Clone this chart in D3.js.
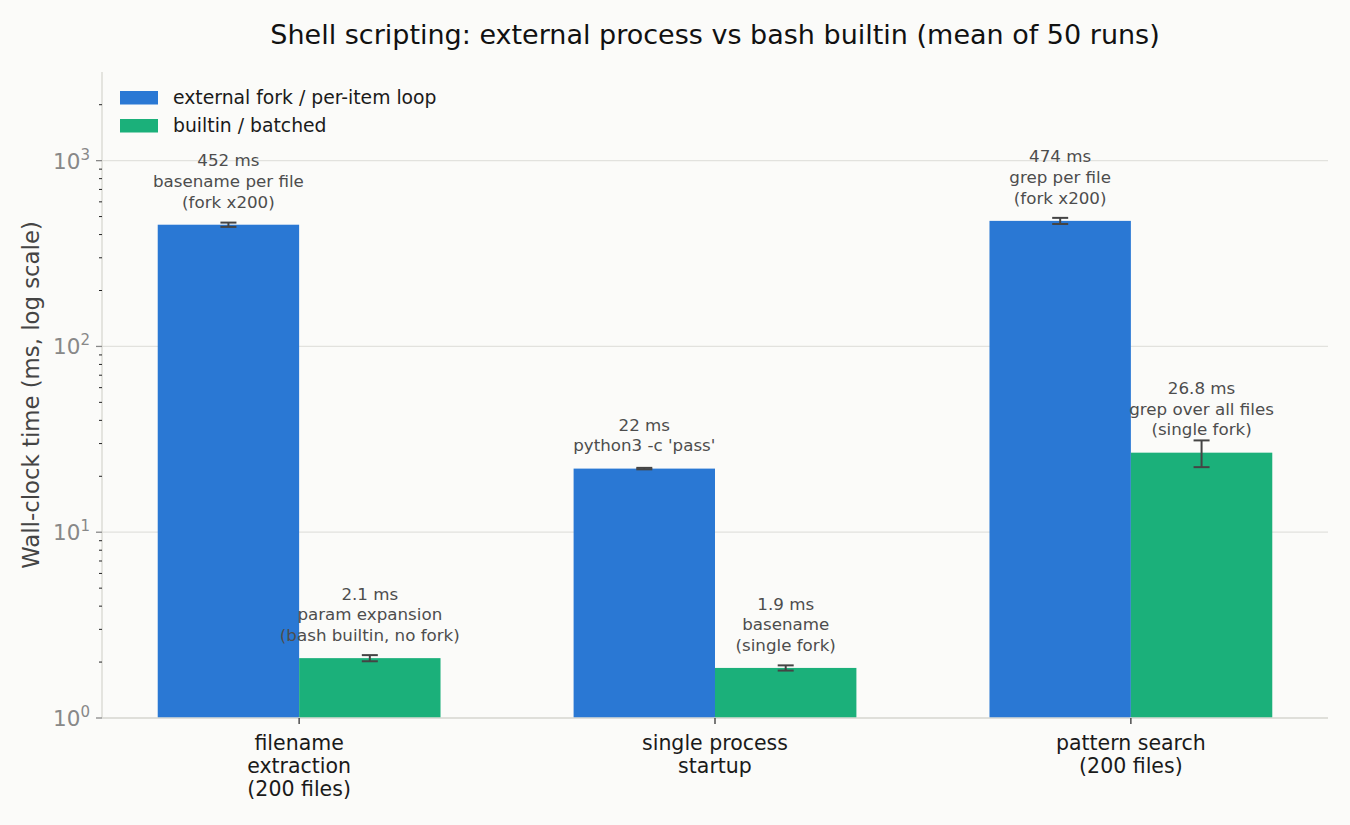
<!DOCTYPE html>
<html><head><meta charset="utf-8">
<script src="https://cdn.jsdelivr.net/npm/d3@7"></script>
<style>
body{margin:0;background:#fbfbf9;}
text{font-family:"DejaVu Sans",sans-serif;}
</style></head>
<body><svg id="c" width="1350" height="825"></svg>
<script>
const categories = [["filename","extraction","(200 files)"],["single process","startup"],["pattern search","(200 files)"]];
const seriesNames = ["external fork / per-item loop","builtin / batched"];
const externalVals = [452, 22, 474];
const externalErr = [12, 0.2, 18];
const builtinVals = [2.1, 1.86, 26.8];
const builtinErr = [0.08, 0.06, 4.4];
const externalNotes = [["452 ms","basename per file","(fork x200)"],["22 ms","python3 -c 'pass'"],["474 ms","grep per file","(fork x200)"]];
const builtinNotes = [["2.1 ms","param expansion","(bash builtin, no fork)"],["1.9 ms","basename","(single fork)"],["26.8 ms","grep over all files","(single fork)"]];
const yTicks = [1, 10, 100, 1000];
const colors = ["#2a78d4", "#1bb07a"];

const svg = d3.select("#c");
svg.append("rect").attr("width",1350).attr("height",825).attr("fill","#fbfbf9");
const L=102, R=1328, T=72, B=718;
const x = d3.scaleLinear().domain([-0.474, 2.474]).range([L, R]);
const y = d3.scaleLog().domain([1, 3000]).range([B, T]);
const bw = 0.34;

// grid
svg.append("g").selectAll("line").data(yTicks).join("line")
  .attr("x1",L).attr("x2",R).attr("y1",d=>y(d)).attr("y2",d=>y(d))
  .attr("stroke","#e2e2de").attr("stroke-width",1.3);

// bars
const series = [
  {vals: externalVals, err: externalErr, notes: externalNotes, off: -bw/2, color: colors[0]},
  {vals: builtinVals, err: builtinErr, notes: builtinNotes, off: bw/2, color: colors[1]}
];
series.forEach(s => {
  const g = svg.append("g");
  g.selectAll("rect").data(s.vals).join("rect")
    .attr("x",(d,i)=>x(i+s.off-bw/2)).attr("width",x(bw)-x(0))
    .attr("y",d=>y(d)).attr("height",d=>B-y(d)).attr("fill",s.color);
  s.vals.forEach((v,i)=>{
    const cx = x(i+s.off), e=s.err[i];
    const y1=y(v+e), y2=y(v-e);
    g.append("line").attr("x1",cx).attr("x2",cx).attr("y1",y1).attr("y2",y2).attr("stroke","#444").attr("stroke-width",2);
    [y1,y2].forEach(yy=>g.append("line").attr("x1",cx-8).attr("x2",cx+8).attr("y1",yy).attr("y2",yy).attr("stroke","#444").attr("stroke-width",2));
    const lines = s.notes[i];
    const base = y(v*1.2) - 2.5;
    const t = g.append("text").attr("text-anchor","middle").attr("fill","#4d4d4d").attr("font-size",16.7);
    lines.forEach((ln,j)=>{
      t.append("tspan").attr("x",cx).attr("y",base-(lines.length-1-j)*20.6).text(ln);
    });
  });
});

// spines
svg.append("line").attr("x1",L).attr("x2",L).attr("y1",T).attr("y2",B).attr("stroke","#dcdcd6").attr("stroke-width",1.5);
svg.append("line").attr("x1",L).attr("x2",R).attr("y1",B).attr("y2",B).attr("stroke","#dcdcd6").attr("stroke-width",1.5);

// y ticks
const minor = [];
for (let dec=1; dec<=1000; dec*=10) for (let m=2;m<=9;m++){ if (dec*m<3000) minor.push(dec*m);} 
svg.append("g").selectAll("line").data(minor).join("line")
  .attr("x1",L-3).attr("x2",L).attr("y1",d=>y(d)).attr("y2",d=>y(d)).attr("stroke","#222").attr("stroke-width",1);
svg.append("g").selectAll("line").data(yTicks).join("line")
  .attr("x1",L-6).attr("x2",L).attr("y1",d=>y(d)).attr("y2",d=>y(d)).attr("stroke","#888").attr("stroke-width",1.3);
const yl = svg.append("g").selectAll("text").data(yTicks).join("text")
  .attr("x",L-12).attr("y",d=>y(d)+8).attr("text-anchor","end").attr("fill","#888").attr("font-size",21.5);
yl.append("tspan").text("10");
yl.append("tspan").attr("dy",-9).attr("font-size",15).text(d=>Math.round(Math.log10(d)));

// x ticks
categories.forEach((c,i)=>{
  svg.append("line").attr("x1",x(i)).attr("x2",x(i)).attr("y1",B).attr("y2",B+6).attr("stroke","#333").attr("stroke-width",1.3);
  const t = svg.append("text").attr("text-anchor","middle").attr("fill","#1a1a1a").attr("font-size",20.5);
  c.forEach((ln,j)=>t.append("tspan").attr("x",x(i)).attr("y",750+j*23).text(ln));
});

// y label
svg.append("text").attr("transform","translate(39,395) rotate(-90)").attr("text-anchor","middle")
  .attr("fill","#444").attr("font-size",22.8).text("Wall-clock time (ms, log scale)");

// title
svg.append("text").attr("x",715).attr("y",44).attr("text-anchor","middle").attr("fill","#111")
  .attr("font-size",27).text("Shell scripting: external process vs bash builtin (mean of 50 runs)");

// legend
seriesNames.forEach((n,i)=>{
  svg.append("rect").attr("x",120).attr("y",91+i*28).attr("width",38).attr("height",13.5).attr("fill",colors[i]);
  svg.append("text").attr("x",173).attr("y",104+i*28).attr("fill","#1a1a1a").attr("font-size",18.8).text(n);
});
</script></body></html>
